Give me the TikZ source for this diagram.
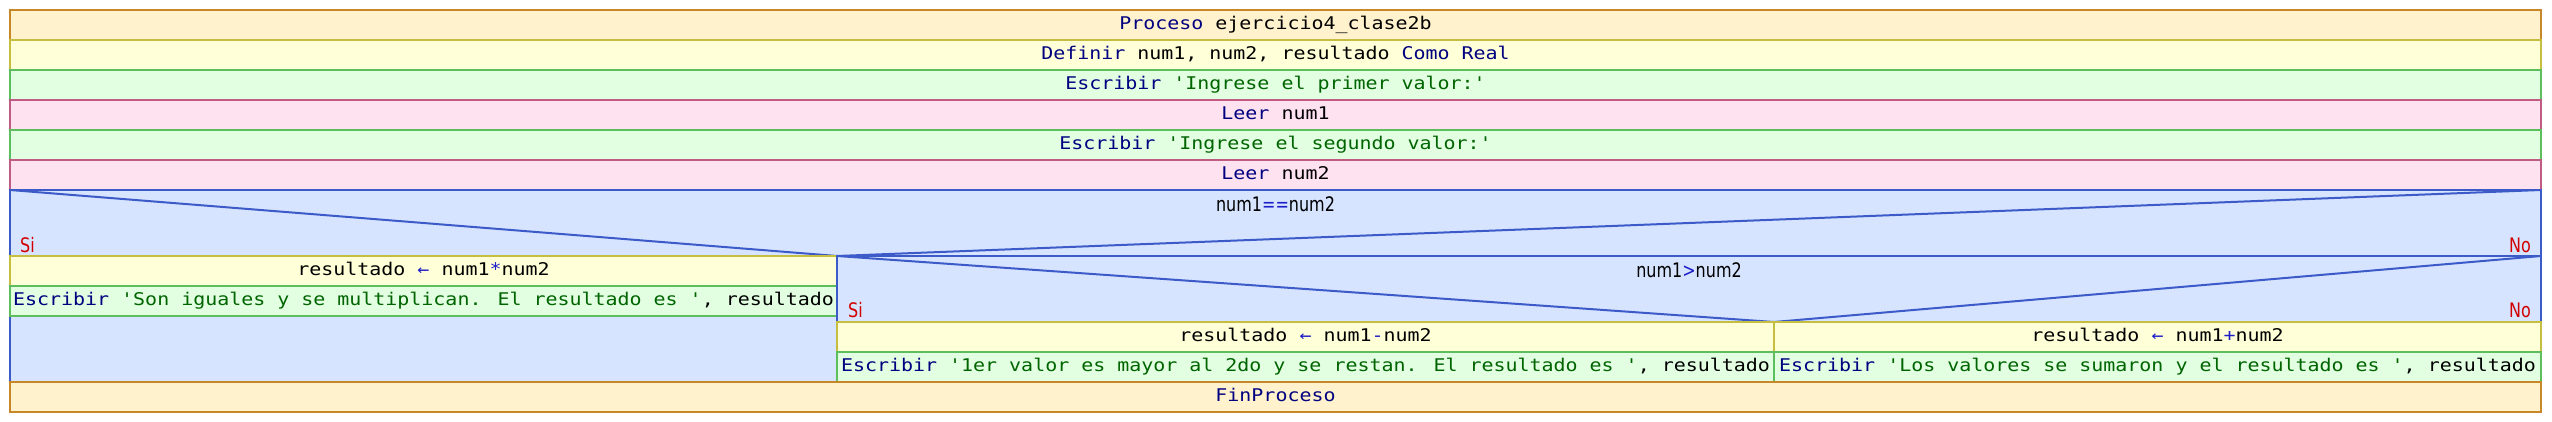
\documentclass[tikz,border=0pt]{standalone}
\usepackage{fontspec}
\newfontfamily\monof[FakeStretch=1.14,Ligatures=TeXOff]{DejaVu Sans Mono}
\newfontfamily\propf[FakeStretch=0.8,Ligatures=TeXOff]{DejaVu Sans}
\definecolor{procfill}{RGB}{255,242,204}
\definecolor{procline}{RGB}{200,135,40}
\definecolor{asgfill}{RGB}{255,255,216}
\definecolor{asgline}{RGB}{198,190,64}
\definecolor{escfill}{RGB}{226,255,226}
\definecolor{escline}{RGB}{92,190,92}
\definecolor{leerfill}{RGB}{255,226,240}
\definecolor{leerline}{RGB}{192,92,132}
\definecolor{condfill}{RGB}{214,228,255}
\definecolor{condline}{RGB}{60,90,200}
\definecolor{kwcol}{RGB}{0,0,128}
\definecolor{strcol}{RGB}{0,100,0}
\definecolor{opcol}{RGB}{30,30,200}
\definecolor{sino}{RGB}{210,0,0}
\newcommand\kwd[1]{\textcolor{kwcol}{#1}}
\newcommand\strg[1]{\textcolor{strcol}{#1}}
\newcommand\opr[1]{\textcolor{opcol}{#1}}
\begin{document}
\begin{tikzpicture}[x=1pt,y=-1pt,
  blk/.style={draw, line width=2pt, inner sep=0pt, outer sep=0pt, anchor=north west,
    minimum height=30pt, text height=12.8pt, text depth=3.7pt,
    font=\monof\fontsize{17.5}{21}\selectfont},
  procbox/.style={blk, fill=procfill, draw=procline},
  asgbox/.style={blk, fill=asgfill, draw=asgline},
  escbox/.style={blk, fill=escfill, draw=escline},
  leerbox/.style={blk, fill=leerfill, draw=leerline},
  condbox/.style={draw=condline, fill=condfill, line width=2pt, inner sep=0pt, outer sep=0pt, anchor=north west},
  diag/.style={draw=condline, line width=2pt},
  condtext/.style={anchor=base, inner sep=0pt, font=\propf\fontsize{20}{24}\selectfont},
  silbl/.style={anchor=base west, inner sep=0pt, text=sino, font=\propf\fontsize{20}{24}\selectfont},
  nolbl/.style={anchor=base east, inner sep=0pt, text=sino, font=\propf\fontsize{20}{24}\selectfont}]
\useasboundingbox (0,0) rectangle (2552,422);
% main sequence
\node[procbox, minimum width=2531pt] (proc) at (10,10) {\kwd{Proceso} ejercicio4\textunderscore clase2b};
\node[asgbox, minimum width=2531pt] (defn) at (10,40) {\kwd{Definir} num1, num2, resultado \kwd{Como} \kwd{Real}};
\node[escbox, minimum width=2531pt] (esc1) at (10,70) {\kwd{Escribir} \strg{'Ingrese el primer valor:'}};
\node[leerbox, minimum width=2531pt] (leer1) at (10,100) {\kwd{Leer} num1};
\node[escbox, minimum width=2531pt] (esc2) at (10,130) {\kwd{Escribir} \strg{'Ingrese el segundo valor:'}};
\node[leerbox, minimum width=2531pt] (leer2) at (10,160) {\kwd{Leer} num2};
% outer condition
\node[condbox, minimum width=2531pt, minimum height=192pt] (cond1) at (10,190) {};
\coordinate (s1) at (837,256);
\draw[diag] (cond1.north west) -- (s1) -- (cond1.north east);
\node[condtext] (c1txt) at ([yshift=-21.5pt]cond1.north) {num1\opr{==}num2};
\node[silbl] (si1) at (20,252) {Si};
\node[nolbl] (no1) at (2531,252) {No};
% Si branch
\node[asgbox, minimum width=827pt] (asg1) at (10,256) {resultado \opr{←} num1\opr{*}num2};
\node[escbox, minimum width=827pt] (esc3) at (10,286) {\kwd{Escribir} \strg{'Son iguales y se multiplican. El resultado es '}, resultado};
% No branch: inner condition
\node[condbox, minimum width=1704pt, minimum height=126pt] (cond2) at (837,256) {};
\coordinate (s2) at (1774,322);
\draw[diag] (cond2.north west) -- (s2) -- (cond2.north east);
\node[condtext] (c2txt) at ([yshift=-21pt]cond2.north) {num1\opr{>}num2};
\node[silbl] (si2) at (848,317) {Si};
\node[nolbl] (no2) at (2531,317) {No};
\node[asgbox, minimum width=937pt] (asg2) at (837,322) {resultado \opr{←} num1\opr{-}num2};
\node[escbox, minimum width=937pt] (esc4) at (837,352) {\kwd{Escribir} \strg{'1er valor es mayor al 2do y se restan. El resultado es '}, resultado};
\node[asgbox, minimum width=767pt] (asg3) at (1774,322) {resultado \opr{←} num1\opr{+}num2};
\node[escbox, minimum width=767pt] (esc5) at (1774,352) {\kwd{Escribir} \strg{'Los valores se sumaron y el resultado es '}, resultado};
% end
\node[procbox, minimum width=2531pt] (fin) at (10,382) {\kwd{FinProceso}};
\end{tikzpicture}
\end{document}
